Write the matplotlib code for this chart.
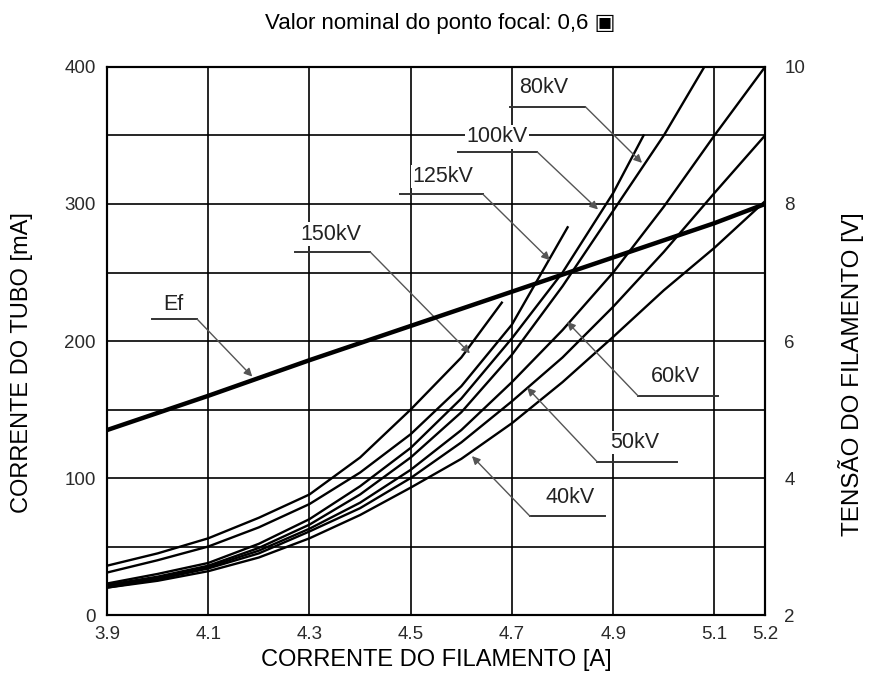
import matplotlib
matplotlib.use('Agg')
import matplotlib.pyplot as plt

plt.rcParams['font.family'] = ['Liberation Sans', 'DejaVu Sans']

# tube current [mA] vs filament current [A], one curve per kV
x_150 = [3.9, 4.0, 4.1, 4.2, 4.3, 4.4, 4.5, 4.6, 4.68]
ma_150 = [36, 45, 56, 71, 88, 115, 150, 188, 228]

x_125 = [3.9, 4.0, 4.1, 4.2, 4.3, 4.4, 4.5, 4.6, 4.7, 4.81]
ma_125 = [31, 40, 50, 64, 81, 104, 132, 167, 212, 283]

x_100 = [3.9, 4.0, 4.1, 4.2, 4.3, 4.4, 4.5, 4.6, 4.7, 4.8, 4.9, 4.96]
ma_100 = [23, 30, 38, 52, 70, 94, 122, 158, 202, 250, 308, 350]

x_80 = [3.9, 4.0, 4.1, 4.2, 4.3, 4.4, 4.5, 4.6, 4.7, 4.8, 4.9, 5.0, 5.08]
ma_80 = [22, 28, 36, 49, 66, 88, 115, 148, 190, 240, 295, 350, 400]

x_60 = [3.9, 4.0, 4.1, 4.2, 4.3, 4.4, 4.5, 4.6, 4.7, 4.8, 4.9, 5.0, 5.1, 5.2]
ma_60 = [21, 27, 35, 47, 63, 82, 106, 135, 170, 208, 250, 298, 350, 400]

x_50 = [3.9, 4.0, 4.1, 4.2, 4.3, 4.4, 4.5, 4.6, 4.7, 4.8, 4.9, 5.0, 5.1, 5.2]
ma_50 = [20, 26, 34, 45, 61, 78, 100, 126, 156, 188, 225, 265, 308, 350]

x_40 = [3.9, 4.0, 4.1, 4.2, 4.3, 4.4, 4.5, 4.6, 4.7, 4.8, 4.9, 5.0, 5.1, 5.2]
ma_40 = [20, 25, 32, 42, 56, 73, 93, 114, 140, 170, 203, 237, 268, 302]

# filament voltage Ef [V] (right axis)
x_ef = [3.9, 4.1, 4.3, 4.5, 4.7, 4.9, 5.1, 5.2]
v_ef = [4.7, 5.2, 5.72, 6.22, 6.72, 7.22, 7.72, 8.0]

curves = [(x_150, ma_150), (x_125, ma_125), (x_100, ma_100), (x_80, ma_80),
          (x_60, ma_60), (x_50, ma_50), (x_40, ma_40)]

# label text, text pos, underline (x0, x1, y), arrow start, arrow tip
labels = [
    ('80kV', (4.762, 385), (4.696, 4.845, 371), (4.845, 371), (4.957, 330)),
    ('100kV', (4.671, 349), (4.594, 4.750, 338), (4.750, 338), (4.870, 296)),
    ('125kV', (4.564, 320), (4.479, 4.643, 307), (4.643, 307), (4.775, 259)),
    ('150kV', (4.343, 278), (4.272, 4.420, 265), (4.420, 265), (4.617, 191)),
    ('60kV', (5.023, 174), (4.949, 5.108, 160), (4.949, 160), (4.809, 214)),
    ('50kV', (4.942, 126), (4.868, 5.026, 112), (4.868, 112), (4.730, 166)),
    ('40kV', (4.815, 86), (4.736, 4.884, 72), (4.736, 72), (4.621, 116)),
    ('Ef', (4.032, 227), (3.989, 4.078, 216), (4.078, 216), (4.187, 174)),
]

xticks = [3.9, 4.1, 4.3, 4.5, 4.7, 4.9, 5.1, 5.2]

fig = plt.figure(figsize=(8.75, 6.97), dpi=100)
ax = fig.add_axes([0.1223, 0.1176, 0.7520, 0.7863])

for xs, ys in curves:
    ax.plot(xs, ys, color='black', lw=1.7, zorder=3)

for text, tpos, uline, start, tip in labels:
    ax.text(tpos[0], tpos[1], text, ha='center', va='center', fontsize=15.5,
            color='#222222', zorder=5,
            bbox=dict(facecolor='white', edgecolor='none', pad=1))
    ax.plot([uline[0], uline[1]], [uline[2], uline[2]], color='#333333', lw=1.4, zorder=4)
    ax.annotate('', xy=tip, xytext=start, zorder=4,
                arrowprops=dict(arrowstyle='-|>', color='#555555', lw=1.0,
                                mutation_scale=12, shrinkA=0, shrinkB=0))

ax.set_xlim(3.9, 5.2)
ax.set_ylim(0, 400)
ax.set_xticks(xticks)
ax.set_xticklabels([str(t) for t in xticks])
ax.set_yticks([0, 100, 200, 300, 400])
ax.set_yticks([50, 150, 250, 350], minor=True)
ax.grid(which='both', color='black', lw=1.2)
ax.set_axisbelow(True)
ax.tick_params(which='both', length=0, labelsize=13.5, labelcolor='#2a2a2a', pad=8)
for s in ax.spines.values():
    s.set_linewidth(1.5)

ax.set_xlabel('CORRENTE DO FILAMENTO [A]', fontsize=17, labelpad=4)
ax.set_ylabel('CORRENTE DO TUBO [mA]', fontsize=17)
ax.yaxis.set_label_coords(-0.112, 0.46)

ax2 = ax.twinx()
ax2.plot(x_ef, v_ef, color='black', lw=3.2, zorder=3)
ax2.set_ylim(2, 10)
ax2.set_yticks([2, 4, 6, 8, 10])
ax2.tick_params(length=0, labelsize=13.5, labelcolor='#2a2a2a', pad=14)
for s in ax2.spines.values():
    s.set_linewidth(1.5)
ax2.set_ylabel('TENSÃO DO FILAMENTO [V]', fontsize=17.5)
ax2.yaxis.set_label_coords(1.111, 0.44)

fig.text(0.503, 0.966, 'Valor nominal do ponto focal: 0,6 ▣', ha='center', va='center',
         fontsize=16, family=['Liberation Sans', 'DejaVu Sans'])

fig.savefig('out.png', dpi=100)
